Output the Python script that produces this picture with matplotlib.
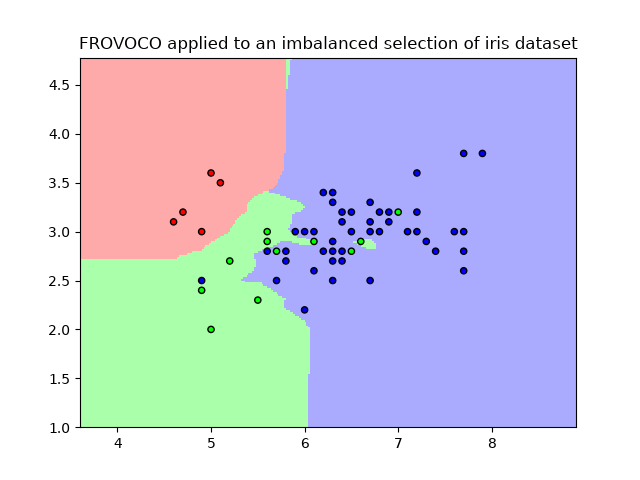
import numpy as np
import matplotlib
matplotlib.use('Agg')
import matplotlib.pyplot as plt
from matplotlib.colors import ListedColormap
from matplotlib.path import Path

plt.rcParams['text.hinting'] = 'no_autohint'

# iris samples (sepal length, sepal width), one list per class
setosa_x = [4.6, 4.7, 4.9, 5.0, 5.1]
setosa_y = [3.1, 3.2, 3.0, 3.6, 3.5]
versicolor_x = [4.9, 5.0, 5.2, 5.5, 5.6, 5.6, 5.7, 6.1, 6.5, 6.6, 7.0]
versicolor_y = [2.4, 2.0, 2.7, 2.3, 3.0, 2.9, 2.8, 2.9, 2.8, 2.9, 3.2]
virginica_x = [6.3, 5.8, 7.1, 6.3, 6.5, 7.6, 4.9, 7.3, 6.7, 7.2, 6.5, 6.4, 6.8, 5.7, 5.8, 6.4, 7.7,
               7.7, 6.0, 6.9, 5.6, 7.7, 6.3, 6.7, 7.2, 6.2, 6.1, 6.4, 7.2, 7.4, 7.9, 6.3, 6.1, 7.7,
               6.3, 6.4, 6.0, 6.9, 6.7, 6.8, 6.7, 6.3, 6.2, 5.9]
virginica_y = [3.3, 2.7, 3.0, 2.9, 3.0, 3.0, 2.5, 2.9, 2.5, 3.6, 3.2, 2.7, 3.0, 2.5, 2.8, 3.2, 3.8,
               2.6, 2.2, 3.2, 2.8, 2.8, 2.7, 3.3, 3.2, 2.8, 3.0, 2.8, 3.0, 2.8, 3.8, 2.8, 2.6, 3.0,
               3.4, 3.1, 3.0, 3.1, 3.1, 3.2, 3.0, 2.5, 3.4, 3.0]

# decision regions, anything outside them is class 2
red_region = [(3.59, 4.8), (5.79, 4.8), (5.79, 3.934), (5.77, 3.63), (5.748, 3.596), (5.705, 3.495),
              (5.64, 3.427), (5.559, 3.402), (5.452, 3.34), (5.374, 3.255), (5.374, 3.188), (5.292, 3.152),
              (5.238, 3.068), (5.167, 2.983), (5.078, 2.932), (4.989, 2.881), (4.882, 2.794), (4.807, 2.79),
              (4.754, 2.763), (4.647, 2.746), (4.615, 2.71), (3.59, 2.71)]
green_region = [(3.59, 0.99), (3.59, 2.89), (5.3, 3.44), (5.595, 3.426), (5.612, 3.402), (5.719, 3.367),
                (5.826, 3.324), (5.933, 3.29), (5.994, 3.245), (5.951, 3.204), (5.862, 3.17), (5.844, 3.085),
                (5.815, 3.017), (5.862, 2.965), (5.916, 2.932), (6.058, 2.915), (6.093, 2.853), (5.951, 2.853),
                (5.844, 2.881), (5.737, 2.881), (5.649, 2.84), (5.523, 2.794), (5.452, 2.761), (5.452, 2.728),
                (5.47, 2.676), (5.452, 2.59), (5.363, 2.54), (5.31, 2.498), (5.363, 2.478), (5.505, 2.478),
                (5.559, 2.437), (5.63, 2.403), (5.702, 2.342), (5.791, 2.308), (5.773, 2.283), (5.773, 2.206),
                (5.844, 2.175), (5.951, 2.106), (6.004, 2.062), (6.04, 2.012), (6.047, 1.534), (6.023, 1.534),
                (6.023, 0.99)]
green_sliver = [(5.79, 4.8), (5.852, 4.8), (5.852, 4.745), (5.837, 4.745), (5.837, 4.592), (5.812, 4.592),
                (5.812, 4.449), (5.79, 4.449)]
green_island = [(6.503, 2.881), (6.557, 2.904), (6.68, 2.915), (6.752, 2.87), (6.752, 2.812), (6.628, 2.822),
                (6.557, 2.853)]

cmap_light = ListedColormap(['#FFAAAA', '#AAFFAA', '#AAAAFF'])
cmap_bold = ListedColormap(['#FF0000', '#00FF00', '#0000FF'])

h = .02
xx, yy = np.meshgrid(np.arange(3.6, 8.9 + h, h), np.arange(1.0, 4.8 + h, h))
cells = np.c_[xx.ravel(), yy.ravel()]

Z = np.full(len(cells), 2)
for region in [green_region, green_sliver, green_island]:
    Z[Path(region).contains_points(cells)] = 1
Z[Path(red_region).contains_points(cells)] = 0
Z = Z.reshape(xx.shape)

X = np.r_[setosa_x, versicolor_x, virginica_x]
Y = np.r_[setosa_y, versicolor_y, virginica_y]
labels = np.r_[np.zeros(len(setosa_x)), np.ones(len(versicolor_x)), np.full(len(virginica_x), 2)]

plt.figure(figsize=(6.4, 4.8), dpi=100)
plt.pcolormesh(xx, yy, Z[:-1, :-1], cmap=cmap_light, vmin=0, vmax=2)
plt.scatter(X, Y, c=labels, cmap=cmap_bold, edgecolor='k', s=20)
plt.xlim(3.6, 8.9)
plt.ylim(1.0, 4.78)
plt.title('FROVOCO applied to an imbalanced selection of iris dataset')
plt.savefig('out.png')
